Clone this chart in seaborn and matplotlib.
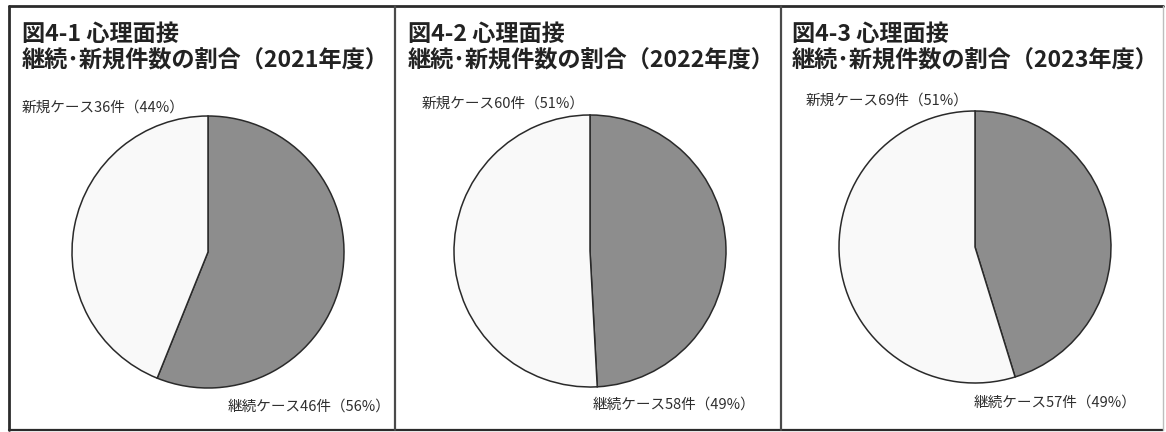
import matplotlib
matplotlib.use("Agg")
import matplotlib.pyplot as plt
import seaborn as sns
from matplotlib.lines import Line2D

# Counseling sessions: continuing vs. new cases per fiscal year
years = ["2021", "2022", "2023"]
figure_ids = ["4-1", "4-2", "4-3"]
continuing = [46, 58, 57]
new_cases = [36, 60, 69]
continuing_pct = ["56%", "49%", "49%"]
new_pct = ["44%", "51%", "51%"]

sns.set_theme(style="white")
plt.rcParams["font.family"] = ["Noto Sans CJK JP", "DejaVu Sans"]

W, H = 1166, 432
fig = plt.figure(figsize=(W / 100, H / 100), dpi=100)
fig.patch.set_facecolor("white")


def fx(px):
    return px / W


def fy(py):
    return 1 - py / H


# panel frame: outer box and two separators
frame_color = "#2b2b2b"
x_left, x_right, y_top, y_bottom = 9, 1163, 6, 430
separators = [395, 781]
for xs, ys, lw, col in [
    ([x_left, x_right], [y_top, y_top], 2.0, frame_color),
    ([x_left, x_right], [y_bottom, y_bottom], 1.6, frame_color),
    ([x_left, x_left], [y_top, y_bottom], 2.0, frame_color),
    ([x_right, x_right], [y_top, y_bottom], 1.0, "#bdbdbd"),
] + [([s, s], [y_top, y_bottom], 1.6, "#4a4a4a") for s in separators]:
    fig.add_artist(Line2D([fx(x) for x in xs], [fy(y) for y in ys],
                          transform=fig.transFigure, color=col, lw=lw))

palette = ["#8d8d8d", "#f9f9f9"]
title_x = [22, 408, 792]
pie_centers = [(208, 252), (590, 251), (975, 247)]
radius = 136
new_label_pos = [(22, 108), (422, 104), (806, 101)]
cont_label_pos = [(390, 407), (755, 405), (1137, 403)]

for i in range(3):
    fig.text(fx(title_x[i]), fy(23),
             f"図{figure_ids[i]} 心理面接\n継続･新規件数の割合（{years[i]}年度）",
             ha="left", va="top", fontsize=16.7, fontweight="bold",
             color="#222222", linespacing=1.22)

    cx, cy = pie_centers[i]
    ax = fig.add_axes([fx(cx - radius), fy(cy + radius),
                       2 * radius / W, 2 * radius / H])
    ax.pie([continuing[i], new_cases[i]], colors=palette, startangle=90,
           counterclock=False,
           wedgeprops=dict(edgecolor="#2a2a2a", linewidth=1.1, clip_on=False))
    ax.set_xlim(-1, 1)
    ax.set_ylim(-1, 1)
    ax.set_aspect("equal")
    ax.set_axis_off()

    nx, ny = new_label_pos[i]
    fig.text(fx(nx), fy(ny), f"新規ケース{new_cases[i]}件（{new_pct[i]}）",
             ha="left", va="center", fontsize=10.5, color="#2e2e2e")
    kx, ky = cont_label_pos[i]
    fig.text(fx(kx), fy(ky), f"継続ケース{continuing[i]}件（{continuing_pct[i]}）",
             ha="right", va="center", fontsize=10.5, color="#2e2e2e")

fig.savefig("out.png", dpi=100, facecolor="white")
